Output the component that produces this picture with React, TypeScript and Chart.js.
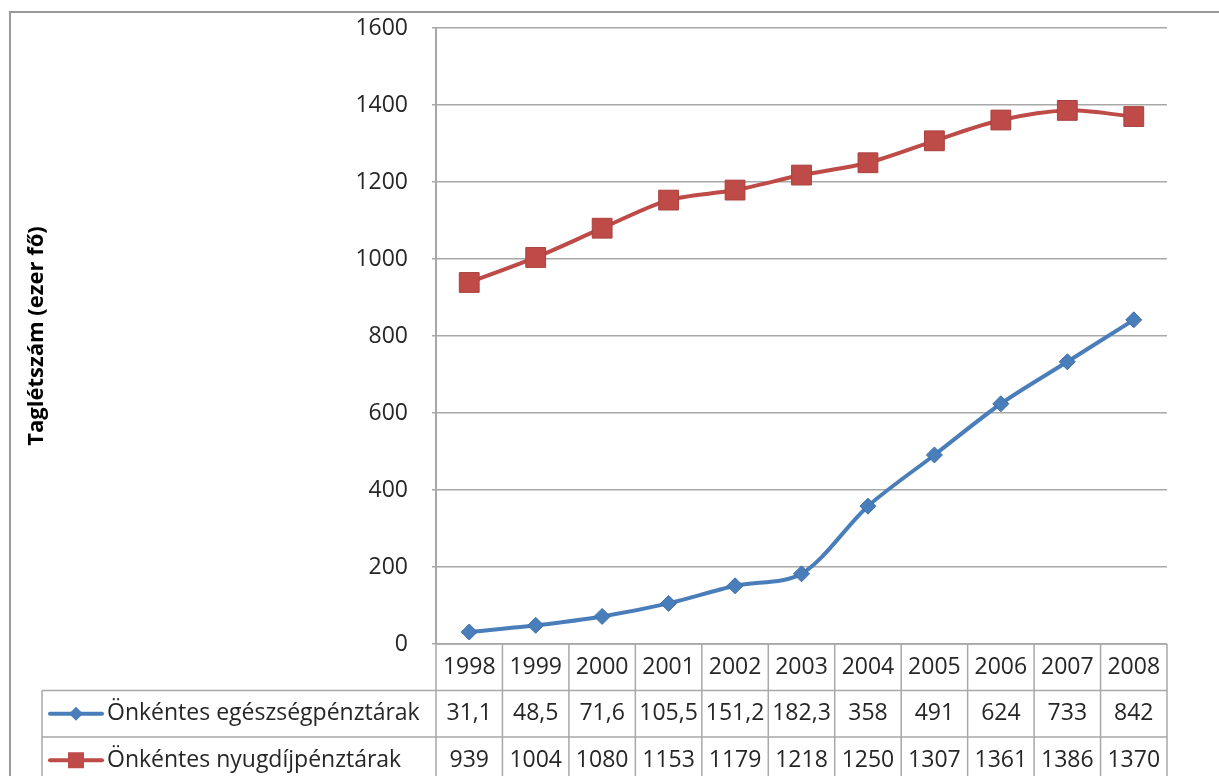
import { useEffect, useRef } from "react";
import { Chart, registerables } from "chart.js";

Chart.register(...registerables);

const years = ["1998", "1999", "2000", "2001", "2002", "2003", "2004", "2005", "2006", "2007", "2008"];
const healthFunds = [31.1, 48.5, 71.6, 105.5, 151.2, 182.3, 358, 491, 624, 733, 842];
const pensionFunds = [939, 1004, 1080, 1153, 1179, 1218, 1250, 1307, 1361, 1386, 1370];
const seriesNames = ["Önkéntes egészségpénztárak", "Önkéntes nyugdíjpénztárak"];
const axisTitle = "Taglétszám (ezer fő)";
const yMin = 0;
const yMax = 1600;
const yStep = 200;

const BLUE = "#4a7ebb";
const RED = "#be4b48";
const GRID = "#a8a8a8";
const TEXT = "#262626";
const FONT = "'Open Sans', 'Noto Sans', sans-serif";

const fmt = (v: number) => String(v).replace(".", ",");

const tablePlugin = {
  id: "dataTable",
  afterDraw(chart: any) {
    const ctx = chart.ctx as CanvasRenderingContext2D;
    const area = chart.chartArea;
    const xs = chart.scales.x;
    const W = chart.width;
    const H = chart.height;
    const n = years.length;
    const centers = years.map((_, i) => xs.getPixelForValue(i));
    const colW = n > 1 ? centers[1] - centers[0] : area.right - area.left;
    const rowH = 46.5;
    const y0 = area.bottom;
    const y1 = y0 + rowH;
    const y2 = y1 + rowH;
    const y3 = y2 + rowH;
    const legendLeft = 42;

    ctx.save();
    // outer frame
    ctx.strokeStyle = "#9a9a9a";
    ctx.lineWidth = 2;
    ctx.beginPath();
    ctx.moveTo(10, H);
    ctx.lineTo(10, 12);
    ctx.lineTo(W, 12);
    ctx.stroke();

    // table lines
    ctx.strokeStyle = "#a8a8a8";
    ctx.lineWidth = 1.5;
    ctx.beginPath();
    ctx.moveTo(area.left, y0);
    ctx.lineTo(area.right, y0);
    ctx.moveTo(legendLeft, y1);
    ctx.lineTo(area.right, y1);
    ctx.moveTo(legendLeft, y2);
    ctx.lineTo(area.right, y2);
    ctx.moveTo(legendLeft, y3);
    ctx.lineTo(area.right, y3);
    ctx.moveTo(legendLeft, y1);
    ctx.lineTo(legendLeft, H);
    for (let i = 0; i <= n; i++) {
      const x = centers[0] - colW / 2 + i * colW;
      ctx.moveTo(x, i === 0 ? area.top : y0);
      ctx.lineTo(x, H);
    }
    ctx.stroke();

    // texts
    ctx.fillStyle = TEXT;
    ctx.font = `23px ${FONT}`;
    ctx.textAlign = "center";
    ctx.textBaseline = "middle";
    years.forEach((yr, i) => {
      ctx.fillText(yr, centers[i], (y0 + y1) / 2);
      ctx.fillText(fmt(healthFunds[i]), centers[i], (y1 + y2) / 2);
      ctx.fillText(fmt(pensionFunds[i]), centers[i], (y2 + y3) / 2);
    });

    // legend keys
    const rows = [
      { y: (y1 + y2) / 2, color: BLUE, shape: "diamond", name: seriesNames[0] },
      { y: (y2 + y3) / 2, color: RED, shape: "square", name: seriesNames[1] },
    ];
    rows.forEach((r) => {
      ctx.strokeStyle = r.color;
      ctx.lineWidth = 4;
      ctx.lineCap = "round";
      ctx.beginPath();
      ctx.moveTo(50, r.y);
      ctx.lineTo(102, r.y);
      ctx.stroke();
      ctx.fillStyle = r.color;
      ctx.beginPath();
      if (r.shape === "diamond") {
        ctx.moveTo(76, r.y - 7);
        ctx.lineTo(83, r.y);
        ctx.lineTo(76, r.y + 7);
        ctx.lineTo(69, r.y);
        ctx.closePath();
      } else {
        ctx.rect(68, r.y - 8, 16, 16);
      }
      ctx.fill();
      ctx.fillStyle = TEXT;
      ctx.textAlign = "left";
      ctx.font = `23px ${FONT}`;
      ctx.fillText(r.name, 107, r.y);
    });

    // axis title
    ctx.save();
    ctx.translate(37, (area.top + area.bottom) / 2);
    ctx.rotate(-Math.PI / 2);
    ctx.font = `bold 22px ${FONT}`;
    ctx.textAlign = "center";
    ctx.textBaseline = "middle";
    ctx.fillStyle = "#000";
    ctx.fillText(axisTitle, 0, 0);
    ctx.restore();

    ctx.restore();
  },
};

export default function App() {
  const ref = useRef<HTMLCanvasElement | null>(null);

  useEffect(() => {
    if (!ref.current) return;
    const chart = new Chart(ref.current, {
      type: "line",
      data: {
        labels: years,
        datasets: [
          {
            label: seriesNames[0],
            data: healthFunds,
            borderColor: BLUE,
            backgroundColor: BLUE,
            pointBackgroundColor: BLUE,
            pointBorderColor: "#3f6fa8",
            pointBorderWidth: 1,
            pointStyle: "rectRot",
            pointRadius: 8,
            borderWidth: 4,
            tension: 0.3,
          },
          {
            label: seriesNames[1],
            data: pensionFunds,
            borderColor: RED,
            backgroundColor: RED,
            pointBackgroundColor: RED,
            pointBorderColor: "#a8403d",
            pointBorderWidth: 1,
            pointStyle: "rect",
            pointRadius: 14,
            borderWidth: 4,
            tension: 0.3,
          },
        ],
      },
      options: {
        responsive: false,
        animation: false,
        devicePixelRatio: 1,
        layout: { padding: { left: 0, top: 28, right: 52, bottom: 132 } },
        plugins: {
          legend: { display: false },
          tooltip: { enabled: false },
          title: { display: false },
        },
        scales: {
          x: {
            type: "category",
            display: false,
            offset: true,
          },
          y: {
            min: yMin,
            max: yMax,
            afterFit: (scale: any) => {
              scale.width = 436;
              scale.paddingTop = 0;
              scale.paddingBottom = 0;
            },
            ticks: {
              stepSize: yStep,
              padding: 24,
              color: TEXT,
              font: { family: FONT, size: 23 },
              callback: (v: any) => String(v),
            },
            grid: {
              color: GRID,
              lineWidth: 1.5,
              tickLength: 4,
            },
            border: { color: GRID, width: 2 },
          },
        },
      },
      plugins: [tablePlugin],
    });
    return () => chart.destroy();
  }, []);

  return (
    <div style={{ position: "absolute", left: 0, top: 0, width: 1219, height: 776, background: "#fff" }}>
      <canvas ref={ref} width={1219} height={776} style={{ display: "block" }} />
    </div>
  );
}
